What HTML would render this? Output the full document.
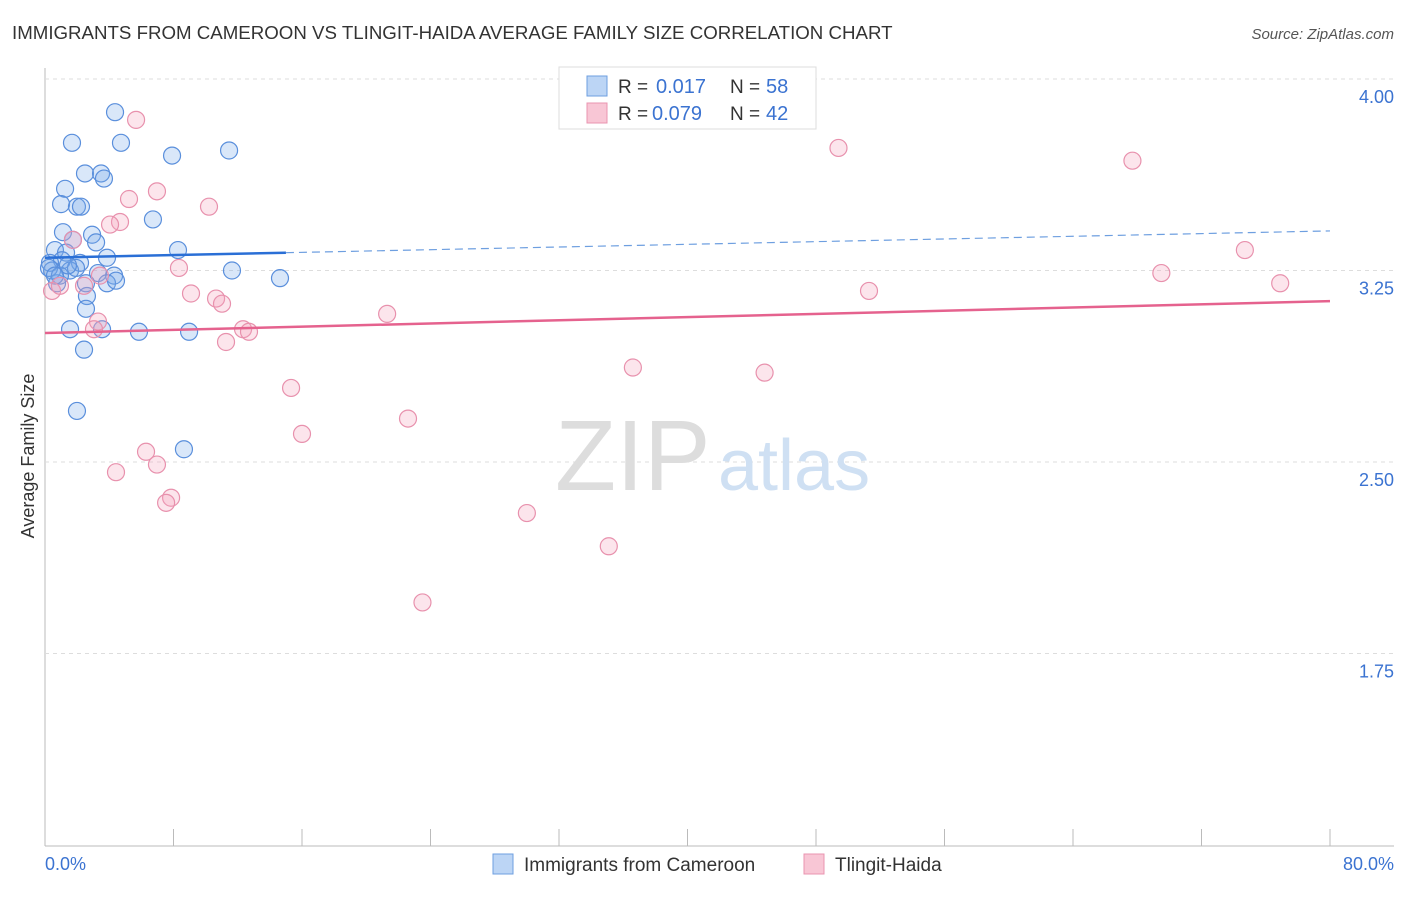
<!DOCTYPE html>
<html><head><meta charset="utf-8"><style>
body{margin:0;background:#fff;font-family:"Liberation Sans",sans-serif;}
svg text{font-family:"Liberation Sans",sans-serif;}
</style></head><body>
<svg id="c" width="1406" height="892">
<text x="12" y="39" font-size="18.7" fill="#333">IMMIGRANTS FROM CAMEROON VS TLINGIT-HAIDA AVERAGE FAMILY SIZE CORRELATION CHART</text>
<text x="1394" y="39" font-size="15" fill="#555" font-style="italic" text-anchor="end">Source: ZipAtlas.com</text>
<g id="grid"></g>
<text x="555" y="490" font-size="100" fill="#ddd" font-family="Liberation Serif">ZIP</text>
<text x="718" y="490" font-size="72" fill="#cfe0f3">atlas</text>
<g id="marks"></g>
<text x="34" y="456" font-size="18" fill="#333" transform="rotate(-90 34 456)" text-anchor="middle">Average Family Size</text>
<text x="45" y="870" font-size="18" fill="#3b73d1">0.0%</text>
<text x="1394" y="870" font-size="18" fill="#3b73d1" text-anchor="end">80.0%</text>
<g>
<rect x="559" y="67" width="257" height="62" fill="#fff" stroke="#ddd"/>
<rect x="587" y="76" width="20" height="20" fill="#bcd5f5" stroke="#6e9fe0"/>
<rect x="587" y="103" width="20" height="20" fill="#f8c6d5" stroke="#ea94b0"/>
<text x="618" y="93" font-size="19" fill="#333">R =</text>
<text x="656" y="93" font-size="20" fill="#3b73d1">0.017</text>
<text x="730" y="93" font-size="19" fill="#333">N =</text>
<text x="766" y="93" font-size="20" fill="#3b73d1">58</text>
<text x="618" y="120" font-size="19" fill="#333">R =</text>
<text x="652" y="120" font-size="20" fill="#3b73d1">0.079</text>
<text x="730" y="120" font-size="19" fill="#333">N =</text>
<text x="766" y="120" font-size="20" fill="#3b73d1">42</text>
</g>
<g>
<rect x="493" y="854" width="20" height="20" fill="#bcd5f5" stroke="#6e9fe0"/>
<text x="524" y="871" font-size="19" fill="#333">Immigrants from Cameroon</text>
<rect x="804" y="854" width="20" height="20" fill="#f8c6d5" stroke="#ea94b0"/>
<text x="835" y="871" font-size="19" fill="#333">Tlingit-Haida</text>
</g>
</svg>
<script>
const yTicks=[4.00,3.25,2.50,1.75];
const xTicks=[0,8,16,24,32,40,48,56,64,72,80];
const blueX=[4.36,1.68,4.73,7.91,11.46,2.49,3.49,3.67,1.25,1.00,1.99,2.24,6.72,1.12,2.93,3.18,1.74,8.28,0.62,1.31,1.06,3.86,0.31,2.18,11.64,14.63,3.30,4.30,3.86,4.42,1.56,1.93,2.55,0.75,0.44,0.25,0.93,2.61,2.55,1.56,3.55,5.85,8.97,2.43,1.99,8.65,1.43,0.62];
const blueY=[3.87,3.75,3.75,3.70,3.72,3.63,3.63,3.61,3.57,3.51,3.50,3.50,3.45,3.40,3.39,3.36,3.37,3.33,3.33,3.32,3.29,3.30,3.28,3.28,3.25,3.22,3.24,3.23,3.20,3.21,3.25,3.26,3.20,3.20,3.25,3.26,3.23,3.15,3.10,3.02,3.02,3.01,3.01,2.94,2.70,2.55,3.27,3.23];
const pinkX=[5.67,49.4,67.7,6.97,5.23,10.21,4.67,4.05,1.74,74.7,8.34,69.5,76.9,51.3,9.09,10.65,11.02,21.3,2.43,3.30,3.05,12.33,12.70,11.27,0.44,0.93,36.6,44.8,15.32,22.6,16.0,6.29,6.97,4.42,7.85,7.54,30.0,35.1,23.5,3.42];
const pinkY=[3.84,3.73,3.68,3.56,3.53,3.50,3.44,3.43,3.37,3.33,3.26,3.24,3.20,3.17,3.16,3.14,3.12,3.08,3.19,3.05,3.02,3.02,3.01,2.97,3.17,3.19,2.87,2.85,2.79,2.67,2.61,2.54,2.49,2.46,2.36,2.34,2.30,2.17,1.95,3.23];
const blueTrend=[3.30,3.405];
const pinkTrend=[3.005,3.13];
const NS='http://www.w3.org/2000/svg';
const X=v=>45+v/80*1285, Y=v=>79+(4-v)*255.33;
function mk(t,a,p){const e=document.createElementNS(NS,t);for(const k in a)e.setAttribute(k,a[k]);p.appendChild(e);return e;}
const g=document.getElementById('grid'), m=document.getElementById('marks');
mk('line',{x1:45,y1:68,x2:45,y2:846,stroke:'#bbb'},g);
mk('line',{x1:45,y1:846,x2:1394,y2:846,stroke:'#bbb'},g);
yTicks.forEach(v=>{
 const l=mk('line',{x1:45,y1:Y(v),x2:1394,y2:Y(v),stroke:'#ddd','stroke-dasharray':'4,4'},g);
 
 
 const t=mk('text',{x:1394,y:Y(v)+24,'font-size':18,fill:'#3b73d1','text-anchor':'end'},g);
 t.textContent=v.toFixed(2);
 
 
});
xTicks.forEach(v=>{
 const l=mk('line',{x1:X(v),y1:829,x2:X(v),y2:846,stroke:'#bbb'},g);
 
 
});
blueX.forEach((v,i)=>{
 const c=mk('circle',{cx:X(v),cy:Y(blueY[i]),r:8.5,fill:'rgba(120,170,235,0.28)',stroke:'#5a8fdc','stroke-width':1.2},m);
 
 
});
pinkX.forEach((v,i)=>{
 const c=mk('circle',{cx:X(v),cy:Y(pinkY[i]),r:8.5,fill:'rgba(245,160,185,0.28)',stroke:'#e891ad','stroke-width':1.2},m);
 
 
});
const by=x=>blueTrend[0]+(blueTrend[1]-blueTrend[0])*x/80;
const bl=mk('line',{x1:X(0),y1:Y(by(0)),x2:X(15),y2:Y(by(15)),stroke:'#2a6fd6','stroke-width':2.5},m);


const bd=mk('line',{x1:X(15),y1:Y(by(15)),x2:X(80),y2:Y(by(80)),stroke:'#6e9fe0','stroke-width':1.2,'stroke-dasharray':'8,5'},m);


const pl=mk('line',{x1:X(0),y1:Y(pinkTrend[0]),x2:X(80),y2:Y(pinkTrend[1]),stroke:'#e5628e','stroke-width':2.5},m);


</script>
</body></html>
